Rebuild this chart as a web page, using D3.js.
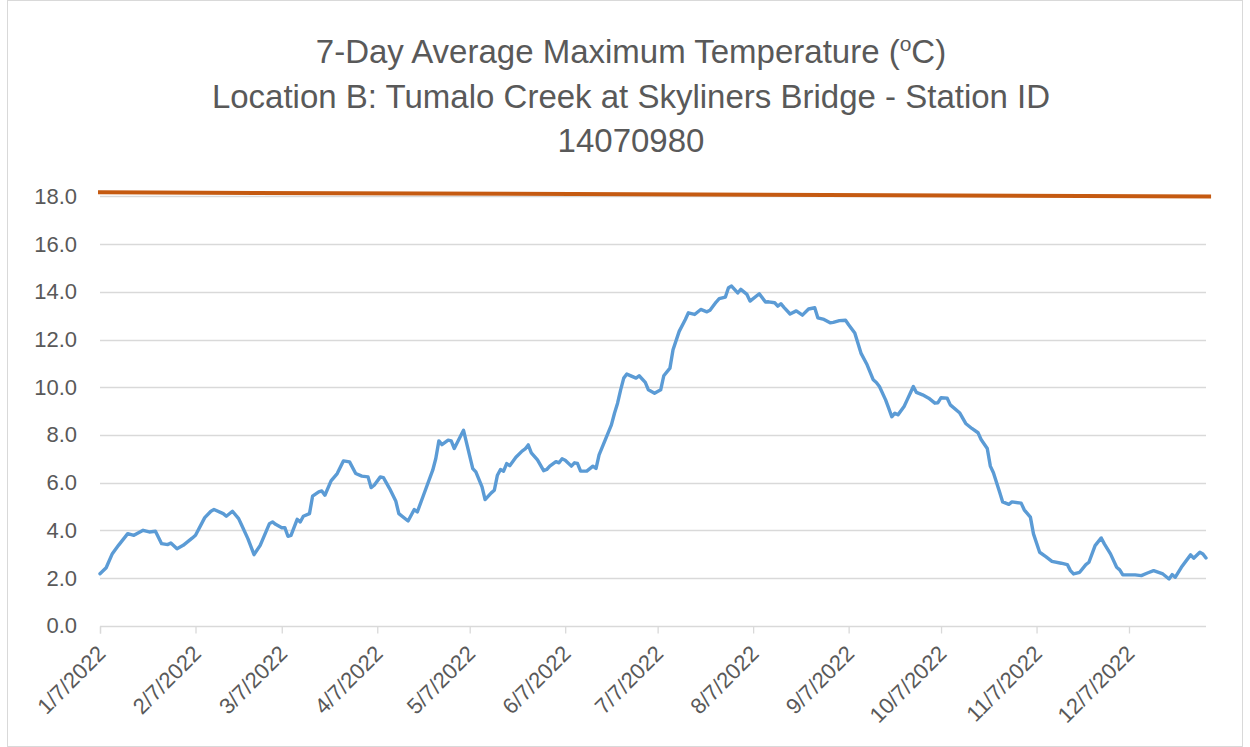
<!DOCTYPE html>
<html>
<head>
<meta charset="utf-8">
<script src="https://cdn.jsdelivr.net/npm/d3@7"></script>
<style>
  html, body { margin: 0; padding: 0; background: #fff; }
  svg { display: block; }
  text { font-family: "Liberation Sans", Arial, sans-serif; fill: #595959; }
</style>
</head>
<body>
<svg id="chart" width="1250" height="747"></svg>
<script>
// ---- Data ----
const startDate = "2022-01-07";
const endDate = "2023-01-01";
// days since 1/7/2022
const days = [0,2,4,6,9,11,14,16,18,20,22,23,25,27,30,31,34,36,37,40,41,43,45,46,48,50,52,55,56,57,59,60,61,62,64,65,66,68,69,71,72,73,75,77,79,81,83,85,87,88,89,91,92,94,96,97,100,102,103,105,108,109,110,111,113,114,115,117,118,121,122,124,125,127,128,129,130,131,132,133,135,137,138,139,140,142,144,145,146,148,149,150,151,153,154,155,156,158,160,161,162,164,166,167,168,169,170,171,174,175,177,178,180,182,183,185,186,188,190,191,193,195,197,198,200,201,203,204,205,207,208,210,211,214,216,217,219,220,221,222,224,226,228,230,232,233,235,237,238,240,242,243,245,247,249,251,252,253,255,256,257,258,259,261,262,263,264,265,267,269,271,272,273,275,276,279,281,283,285,286,288,289,290,292,293,295,296,299,300,302,303,305,307,309,312,314,315,316,318,320,321,323,325,326,328,330,331,332,335,336,338,340,342,345,347,348,349,351,354,355,357,358,359];
const maxTemp7Day = [2.18,2.43,3.02,3.37,3.86,3.79,4.00,3.93,3.96,3.44,3.40,3.47,3.23,3.37,3.68,3.79,4.53,4.80,4.87,4.70,4.59,4.80,4.49,4.21,3.65,2.98,3.37,4.28,4.35,4.25,4.11,4.11,3.75,3.79,4.46,4.35,4.59,4.70,5.43,5.61,5.65,5.47,6.07,6.38,6.91,6.87,6.38,6.27,6.24,5.79,5.89,6.24,6.21,5.75,5.23,4.70,4.39,4.87,4.77,5.47,6.52,7.01,7.75,7.59,7.78,7.75,7.43,7.94,8.19,6.59,6.45,5.82,5.29,5.57,5.68,6.31,6.55,6.48,6.80,6.71,7.06,7.32,7.41,7.58,7.25,6.95,6.50,6.55,6.69,6.88,6.83,7.00,6.94,6.69,6.83,6.80,6.48,6.48,6.69,6.59,7.16,7.79,8.42,8.91,9.33,9.89,10.38,10.55,10.38,10.48,10.20,9.89,9.75,9.89,10.48,10.80,11.57,12.34,12.84,13.12,13.05,13.26,13.16,13.23,13.57,13.71,13.78,14.17,14.24,13.95,14.10,13.89,13.61,13.92,13.57,13.58,13.54,13.40,13.50,13.35,13.07,13.20,13.02,13.28,13.33,12.91,12.84,12.70,12.72,12.79,12.81,12.62,12.27,11.43,10.94,10.31,10.20,10.03,9.47,9.12,8.76,8.91,8.84,9.19,9.47,9.75,10.03,9.78,9.68,9.54,9.33,9.35,9.56,9.54,9.26,8.93,8.48,8.27,8.09,7.81,7.43,6.69,6.41,5.61,5.19,5.09,5.19,5.14,4.86,4.55,3.85,3.08,2.90,2.70,2.62,2.56,2.31,2.17,2.24,2.56,2.66,3.36,3.68,3.43,3.01,2.45,2.34,2.13,2.13,2.13,2.10,2.21,2.31,2.17,1.96,2.14,2.03,2.45,2.97,2.83,3.08,3.01,2.84];
// threshold / reference line (orange)
const refDays = [0, 360];
const refValues = [18.17, 18.0];
// axis ticks
const xTickLabels = ["1/7/2022","2/7/2022","3/7/2022","4/7/2022","5/7/2022","6/7/2022","7/7/2022","8/7/2022","9/7/2022","10/7/2022","11/7/2022","12/7/2022"];
const yTicks = [0,2,4,6,8,10,12,14,16,18];
const titleLines = ["7-Day Average Maximum Temperature (", "Location B: Tumalo Creek at Skyliners Bridge - Station ID", "14070980"];

// ---- Helpers ----
const parseISO = d3.utcParse("%Y-%m-%d");
const parseMDY = d3.utcParse("%m/%d/%Y");
const t0 = parseISO(startDate);
const dayToDate = d => d3.utcDay.offset(t0, d);

const svg = d3.select("#chart");
const FONT = '"Liberation Sans", Arial, sans-serif';

// chart border
svg.append("rect")
  .attr("x", 7.5).attr("y", 0.5)
  .attr("width", 1235).attr("height", 746)
  .attr("fill", "#fff").attr("stroke", "#D9D9D9").attr("stroke-width", 1);

const x = d3.scaleUtc().domain([t0, parseISO(endDate)]).range([100, 1206]);
const y = d3.scaleLinear().domain([0, 18]).range([625.7, 196.4]);

// gridlines
svg.append("g")
  .selectAll("line")
  .data(yTicks.filter(v => v > 0))
  .join("line")
  .attr("x1", 100).attr("x2", 1206)
  .attr("y1", d => Math.round(y(d)) + 0.5).attr("y2", d => Math.round(y(d)) + 0.5)
  .attr("stroke", "#D9D9D9").attr("stroke-width", 1.3);

// y axis labels
const yAxis = d3.axisLeft(y).tickValues(yTicks).tickFormat(d3.format(".1f")).tickSize(0).tickPadding(0);
const gy = svg.append("g").attr("transform", "translate(77,0)").call(yAxis);
gy.select(".domain").remove();
gy.selectAll("text").attr("font-size", 22).attr("fill", "#595959").style("font-family", FONT);

// x axis
const xTickDates = xTickLabels.map(parseMDY);
const xAxis = d3.axisBottom(x).tickValues(xTickDates).tickSize(7).tickFormat((d, i) => xTickLabels[i]);
const gx = svg.append("g").attr("transform", `translate(0,${Math.round(y(0)) + 0.5})`).call(xAxis);
gx.select(".domain").attr("stroke", "#D9D9D9").attr("stroke-width", 1.3)
  .attr("d", `M100.5,0V7M100,0H1206`);
gx.selectAll(".tick line").attr("stroke", "#D9D9D9").attr("stroke-width", 1.3);
gx.selectAll(".tick text")
  .attr("font-size", 22).attr("fill", "#595959").style("font-family", FONT)
  .attr("text-anchor", "end")
  .attr("transform", "translate(1,23) rotate(-45)")
  .attr("x", 0).attr("y", 0).attr("dy", "0.35em");

// orange reference line
const refLine = d3.line().x((d, i) => x(dayToDate(refDays[i]))).y((d, i) => y(refValues[i]));
svg.append("path")
  .attr("d", refLine(refValues))
  .attr("fill", "none").attr("stroke", "#C55A11").attr("stroke-width", 4)
  .attr("stroke-linecap", "square");

// blue series
const line = d3.line().x((d, i) => x(dayToDate(days[i]))).y((d, i) => y(maxTemp7Day[i]));
svg.append("path")
  .attr("d", line(maxTemp7Day))
  .attr("fill", "none").attr("stroke", "#5B9BD5").attr("stroke-width", 3.4)
  .attr("stroke-linejoin", "round").attr("stroke-linecap", "round");

// title
const title = svg.append("g").attr("font-size", 33).attr("text-anchor", "middle");
const t1 = title.append("text").attr("x", 631).attr("y", 63);
t1.append("tspan").text(titleLines[0]);
t1.append("tspan").attr("font-size", 21).attr("dy", -12).text("o");
t1.append("tspan").attr("dy", 12).text("C)");
title.append("text").attr("x", 631).attr("y", 108).text(titleLines[1]);
title.append("text").attr("x", 631).attr("y", 152).text(titleLines[2]);
</script>
</body>
</html>
